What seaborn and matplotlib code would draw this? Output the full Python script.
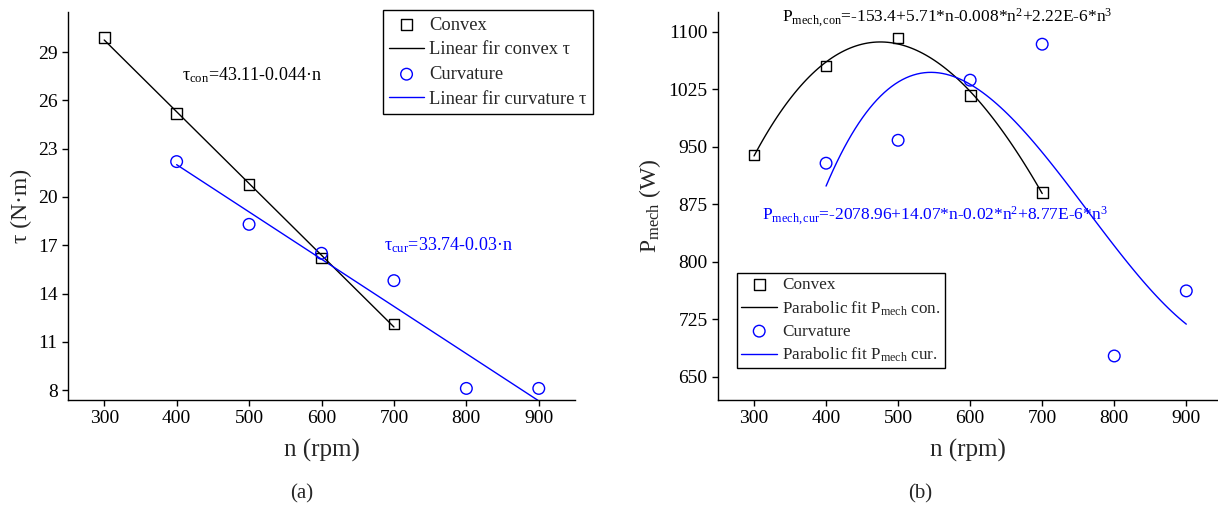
import numpy as np
import pandas as pd
import matplotlib
matplotlib.use("Agg")
import matplotlib.pyplot as plt
import seaborn as sns

# ---- data ----
n_con = [300, 400, 500, 600, 700]
tau_con = [29.9, 25.2, 20.8, 16.2, 12.1]
n_cur = [400, 500, 600, 700, 800, 900]
tau_cur = [22.2, 18.3, 16.5, 14.8, 8.1, 8.1]

p_con = [939.6, 1055.5, 1092.2, 1017.2, 890.6]
p_cur = [928.8, 958.7, 1037.1, 1084.0, 677.4, 762.3]

x_ticks = [300, 400, 500, 600, 700, 800, 900]
tau_ticks = [8, 11, 14, 17, 20, 23, 26, 29]
p_ticks = [650, 725, 800, 875, 950, 1025, 1100]

sns.set_style("ticks")
plt.rcParams["font.family"] = ["Liberation Serif", "DejaVu Serif"]
plt.rcParams["mathtext.fontset"] = "custom"
plt.rcParams["mathtext.rm"] = "Liberation Serif"
plt.rcParams["mathtext.it"] = "Liberation Serif:italic"
plt.rcParams["axes.edgecolor"] = "black"
plt.rcParams["axes.linewidth"] = 1.0
plt.rcParams["xtick.color"] = "black"
plt.rcParams["ytick.color"] = "black"

BLUE = "#0000FF"
W, H = 1218, 511
fig = plt.figure(figsize=(W / 100, H / 100), dpi=100)

def px_axes(l, r, t, b):
    return fig.add_axes([l / W, 1 - b / H, (r - l) / W, (b - t) / H])

ax1 = px_axes(68, 575, 12, 400)
ax2 = px_axes(718, 1218, 12, 400)

df_con = pd.DataFrame({"n": n_con, "tau": tau_con, "P": p_con})
df_cur = pd.DataFrame({"n": n_cur, "tau": tau_cur, "P": p_cur})

# ---- panel (a) ----
sns.scatterplot(data=df_con, x="n", y="tau", ax=ax1, marker="s", s=60,
                facecolor="none", edgecolor="black", linewidth=1.0, label="Convex", zorder=3)
sns.regplot(data=df_con, x="n", y="tau", ax=ax1, scatter=False, ci=None, truncate=True,
            label="Linear fir convex τ", line_kws={"color": "black", "lw": 1.0})
sns.scatterplot(data=df_cur, x="n", y="tau", ax=ax1, marker="o", s=70,
                facecolor="none", edgecolor=BLUE, linewidth=1.0, label="Curvature", zorder=3)
sns.regplot(data=df_cur, x="n", y="tau", ax=ax1, scatter=False, ci=None, truncate=True,
            label="Linear fir curvature τ", line_kws={"color": BLUE, "lw": 1.0})

ax1.set_xlim(250, 950)
ax1.set_ylim(7.38, 31.5)
ax1.set_xticks(x_ticks)
ax1.set_yticks(tau_ticks)
ax1.set_xlabel("n (rpm)", fontsize=18, labelpad=8)
ax1.set_ylabel("τ (N·m)", fontsize=17, labelpad=4)
ax1.text(407, 27.6, r"τ$_{\mathregular{con}}$=43.11-0.044·n", fontsize=13, color="black", va="center")
ax1.text(686, 17.0, r"τ$_{\mathregular{cur}}$=33.74-0.03·n", fontsize=13, color=BLUE, va="center")
leg1 = ax1.legend(loc="upper left", bbox_to_anchor=((383 - 68) / 507, 1.005), fontsize=13.3,
                  frameon=True, fancybox=False, edgecolor="black", framealpha=1,
                  handlelength=1.85, labelspacing=0.42, borderpad=0.35, handletextpad=0.3,
                  borderaxespad=0)
leg1.get_frame().set_linewidth(1.0)

# ---- panel (b) ----
sns.scatterplot(data=df_con, x="n", y="P", ax=ax2, marker="s", s=60,
                facecolor="none", edgecolor="black", linewidth=1.0, label="Convex", zorder=3)
sns.regplot(data=df_con, x="n", y="P", ax=ax2, order=3, scatter=False, ci=None, truncate=True,
            label=r"Parabolic fit P$_{\mathregular{mech}}$ con.", line_kws={"color": "black", "lw": 1.0})
sns.scatterplot(data=df_cur, x="n", y="P", ax=ax2, marker="o", s=70,
                facecolor="none", edgecolor=BLUE, linewidth=1.0, label="Curvature", zorder=3)
sns.regplot(data=df_cur, x="n", y="P", ax=ax2, order=3, scatter=False, ci=None, truncate=True,
            label=r"Parabolic fit P$_{\mathregular{mech}}$ cur.", line_kws={"color": BLUE, "lw": 1.0})

ax2.set_xlim(250, 944)
ax2.set_ylim(620, 1126)
ax2.set_xticks(x_ticks)
ax2.set_yticks(p_ticks)
ax2.set_xlabel("n (rpm)", fontsize=18, labelpad=8)
ax2.set_ylabel(r"P$_{\mathregular{mech}}$ (W)", fontsize=17, labelpad=4)
ax2.text(339, 1119, r"P$_{\mathregular{mech,con}}$=-153.4+5.71*n-0.008*n$^{\mathregular{2}}$+2.22E-6*n$^{\mathregular{3}}$",
         fontsize=12.5, color="black", va="center")
ax2.text(311, 861, r"P$_{\mathregular{mech,cur}}$=-2078.96+14.07*n-0.02*n$^{\mathregular{2}}$+8.77E-6*n$^{\mathregular{3}}$",
         fontsize=12.5, color=BLUE, va="center")
leg2 = ax2.legend(loc="upper left", bbox_to_anchor=((737 - 718) / 500, (400 - 273) / 388), fontsize=12.3,
                  frameon=True, fancybox=False, edgecolor="black", framealpha=1,
                  handlelength=2.1, labelspacing=0.35, borderpad=0.25, handletextpad=0.3,
                  borderaxespad=0)
leg2.get_frame().set_linewidth(1.0)

for ax in (ax1, ax2):
    sns.despine(ax=ax)
    ax.tick_params(axis="both", labelsize=14, direction="out", length=4, width=1, colors="black")

fig.text(302 / W, 1 - 494 / H, "(a)", fontsize=15, ha="center", va="center")
fig.text(920 / W, 1 - 494 / H, "(b)", fontsize=15, ha="center", va="center")

fig.savefig("out.png", dpi=100)
